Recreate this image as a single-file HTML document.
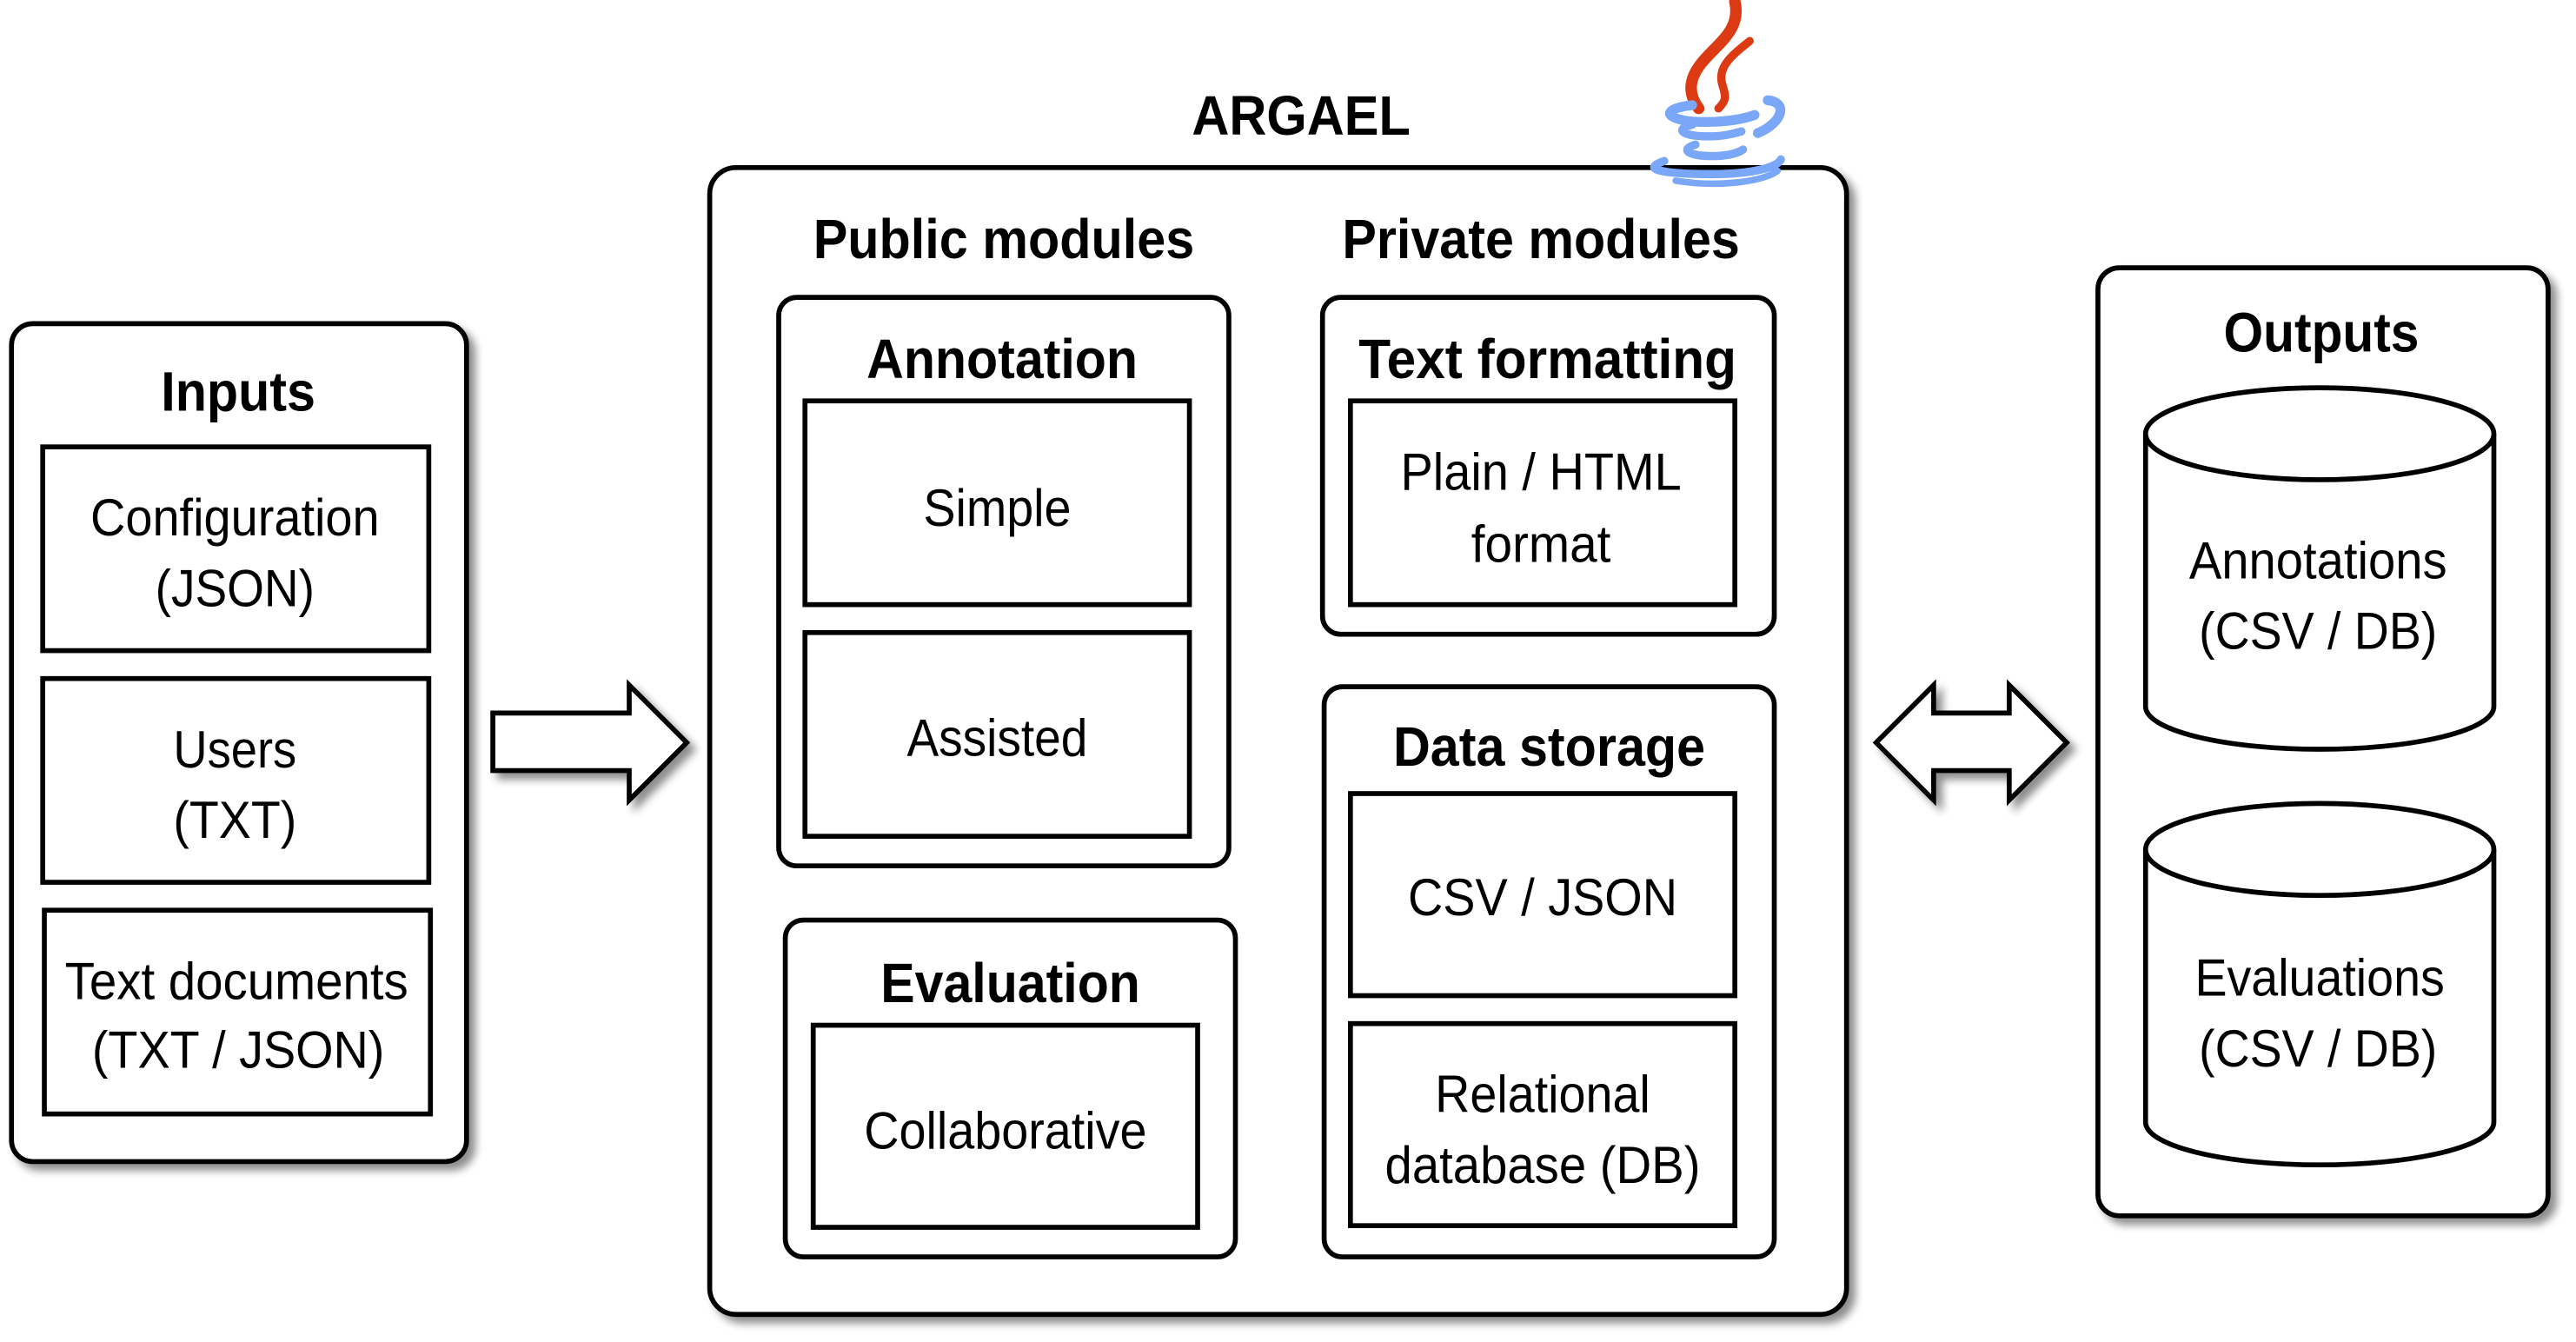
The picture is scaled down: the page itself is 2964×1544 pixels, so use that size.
<!DOCTYPE html>
<html><head><meta charset="utf-8"><style>html,body{margin:0;padding:0;background:#fff}svg{display:block}</style></head>
<body>
<svg width="2964" height="1544" viewBox="0 0 1568 816.8" preserveAspectRatio="none" xmlns="http://www.w3.org/2000/svg">
<defs>
<filter id="sh" x="-10%" y="-10%" width="130%" height="130%">
<feGaussianBlur in="SourceAlpha" stdDeviation="2.5"/>
<feOffset dx="4" dy="4" result="b"/>
<feComponentTransfer><feFuncA type="linear" slope="0.45"/></feComponentTransfer>
<feMerge><feMergeNode/><feMergeNode in="SourceGraphic"/></feMerge>
</filter>
</defs>
<g font-family="'Liberation Sans', Arial, sans-serif" fill="#000" text-anchor="middle">
<!-- boxes with shadow -->
<g stroke="#000" stroke-width="3" fill="#fff" filter="url(#sh)">
<rect x="7" y="197" width="277" height="510" rx="13"/>
<rect x="432" y="102" width="692" height="698" rx="16"/>
<rect x="474" y="181" width="274" height="346" rx="11"/>
<rect x="478" y="560" width="274" height="205" rx="11"/>
<rect x="805" y="181" width="275" height="205" rx="11"/>
<rect x="806" y="418" width="274" height="347" rx="11"/>
<rect x="1277" y="163" width="274" height="577" rx="13"/>
<path d="M1306 264 L1306 430 A106 26 0 0 0 1518 430 L1518 264 A106 28 0 0 0 1306 264 Z"/>
<path d="M1306 517 L1306 683 A106 26 0 0 0 1518 683 L1518 517 A106 28 0 0 0 1306 517 Z"/>
</g>
<g stroke="#000" stroke-width="3" fill="none">
<path d="M1306 264 A106 28 0 0 0 1518 264"/>
<path d="M1306 517 A106 28 0 0 0 1518 517"/>
</g>
<!-- Java logo -->
<g fill="none" stroke-linecap="round">
<path d="M1056 1 C1060 18 1046 26 1036 38 C1027 49 1028 58 1034 66" stroke="#dc3a12" stroke-width="7"/>
<path d="M1065 25 C1055 33 1046 40 1048 50 C1050 58 1052 60 1046 66" stroke="#dc3a12" stroke-width="5"/>
<path d="M1030 64 C1012 66 1012 72 1030 74 C1046 75 1060 73 1068 70" stroke="#7aa7f7" stroke-width="6"/>
<path d="M1076 61 C1088 62 1086 74 1070 81" stroke="#7aa7f7" stroke-width="6"/>
<path d="M1030 76 C1020 78 1022 83 1040 83 C1050 83 1056 81 1060 80" stroke="#7aa7f7" stroke-width="5"/>
<path d="M1032 88 C1022 91 1028 95 1042 95 C1052 95 1058 93 1061 91" stroke="#7aa7f7" stroke-width="5"/>
<path d="M1013 98 C998 103 1012 106 1042 106 C1066 106 1082 102 1084 97" stroke="#7aa7f7" stroke-width="5"/>
<path d="M1020 110 C1045 114 1072 111 1082 104" stroke="#7aa7f7" stroke-width="4"/>
</g>
<!-- inner rects -->
<g stroke="#000" stroke-width="3" fill="#fff">
<rect x="26" y="272" width="235" height="124"/>
<rect x="26" y="413" width="235" height="124"/>
<rect x="27" y="554" width="235" height="124"/>
<rect x="490" y="244" width="234" height="124"/>
<rect x="490" y="385" width="234" height="124"/>
<rect x="495" y="624" width="234" height="123"/>
<rect x="822" y="244" width="234" height="124"/>
<rect x="822" y="483" width="234" height="123"/>
<rect x="822" y="623" width="234" height="123"/>
</g>
<!-- arrows -->
<g stroke="#000" stroke-width="3" fill="#fff" filter="url(#sh)" stroke-linejoin="miter">
<path d="M300 434 L383 434 L383 417 L418 452 L383 487 L383 469 L300 469 Z"/>
<path d="M1142 452 L1177 417 L1177 434 L1223 434 L1223 417 L1258 452 L1223 487 L1223 469 L1177 469 L1177 487 Z"/>
</g>
<!-- text -->
<g font-weight="bold" font-size="34">
<text x="792" y="82" textLength="133" lengthAdjust="spacingAndGlyphs">ARGAEL</text>
<text x="145" y="250" textLength="94" lengthAdjust="spacingAndGlyphs">Inputs</text>
<text x="611" y="157" textLength="232" lengthAdjust="spacingAndGlyphs">Public modules</text>
<text x="938" y="157" textLength="242" lengthAdjust="spacingAndGlyphs">Private modules</text>
<text x="610" y="230" textLength="165" lengthAdjust="spacingAndGlyphs">Annotation</text>
<text x="615" y="610" textLength="158" lengthAdjust="spacingAndGlyphs">Evaluation</text>
<text x="942" y="230" textLength="230" lengthAdjust="spacingAndGlyphs">Text formatting</text>
<text x="943" y="466" textLength="190" lengthAdjust="spacingAndGlyphs">Data storage</text>
<text x="1413" y="214" textLength="119" lengthAdjust="spacingAndGlyphs">Outputs</text>
</g>
<g font-size="32">
<text x="143" y="326" textLength="176" lengthAdjust="spacingAndGlyphs">Configuration</text>
<text x="143" y="369" textLength="97" lengthAdjust="spacingAndGlyphs">(JSON)</text>
<text x="143" y="467" textLength="75" lengthAdjust="spacingAndGlyphs">Users</text>
<text x="143" y="510" textLength="75" lengthAdjust="spacingAndGlyphs">(TXT)</text>
<text x="144" y="608" textLength="209" lengthAdjust="spacingAndGlyphs">Text documents</text>
<text x="145" y="650" textLength="178" lengthAdjust="spacingAndGlyphs">(TXT / JSON)</text>
<text x="607" y="320" textLength="90" lengthAdjust="spacingAndGlyphs">Simple</text>
<text x="607" y="460" textLength="110" lengthAdjust="spacingAndGlyphs">Assisted</text>
<text x="612" y="699" textLength="172" lengthAdjust="spacingAndGlyphs">Collaborative</text>
<text x="938" y="298" textLength="171" lengthAdjust="spacingAndGlyphs">Plain / HTML</text>
<text x="938" y="342" textLength="85" lengthAdjust="spacingAndGlyphs">format</text>
<text x="939" y="557" textLength="164" lengthAdjust="spacingAndGlyphs">CSV / JSON</text>
<text x="939" y="677" textLength="131" lengthAdjust="spacingAndGlyphs">Relational</text>
<text x="939" y="720" textLength="192" lengthAdjust="spacingAndGlyphs">database (DB)</text>
<text x="1411" y="352" textLength="157" lengthAdjust="spacingAndGlyphs">Annotations</text>
<text x="1411" y="395" textLength="145" lengthAdjust="spacingAndGlyphs">(CSV / DB)</text>
<text x="1412" y="606" textLength="152" lengthAdjust="spacingAndGlyphs">Evaluations</text>
<text x="1411" y="649" textLength="145" lengthAdjust="spacingAndGlyphs">(CSV / DB)</text>
</g>
</g>
</svg>
</body></html>
